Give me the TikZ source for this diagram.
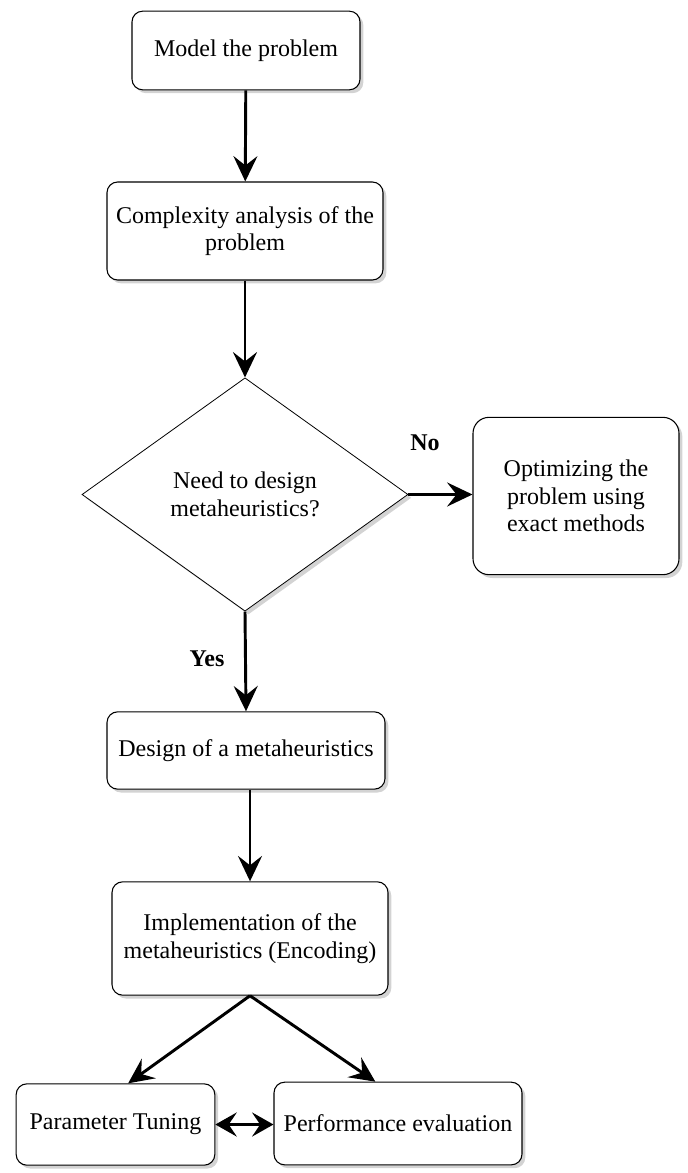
\documentclass[tikz,border=0pt]{standalone}
\usepackage{fontspec}
\setmainfont{Liberation Serif}
\usepackage{tikz}
\usetikzlibrary{arrows.meta, shapes.geometric, shadows}
\tikzset{
  stepbox/.style={
    draw=black, line width=0.8pt, fill=white, rounded corners=8pt,
    drop shadow={opacity=0.35, shadow xshift=2.5pt, shadow yshift=-2.5pt},
    font=\fontsize{18}{20.5}\selectfont, inner sep=2pt, align=center,
  },
  decbox/.style={
    draw=black, line width=0.6pt, fill=white, diamond, inner sep=0pt,
    drop shadow={opacity=0.35, shadow xshift=2.5pt, shadow yshift=-2.5pt},
    font=\fontsize{18}{20.5}\selectfont, align=center,
  },
  flowarr/.style={-{Stealth[length=19pt, width=18pt, inset=7pt]}, line width=2.2pt},
  bothar/.style={{Stealth[length=16pt, width=18pt, inset=6pt]}-{Stealth[length=16pt, width=18pt, inset=6pt]}, line width=2.2pt},
  branchlbl/.style={font=\fontsize{18}{20.5}\selectfont\bfseries},
}

\begin{document}
\begin{tikzpicture}[x=0.75pt, y=-0.75pt]

\useasboundingbox (0,0) rectangle (688,1173);

% =====================================================================
%  MAIN COLUMN
% =====================================================================

\node[stepbox, minimum width=171pt, minimum height=59pt] (model) at (246, 50.5) {Model the problem};

\node[stepbox, minimum width=207pt, minimum height=73.5pt] (cplx) at (245, 231) {Complexity analysis of the\\problem};

% decision
\node[decbox, minimum width=244.5pt, minimum height=175pt] (need) at (245, 494.5) {Need to design\\metaheuristics?};

\node[stepbox, rounded corners=12pt, minimum width=154.5pt, minimum height=118pt] (exact) at (576, 496) {Optimizing the\\problem using\\exact methods};

\node[stepbox, minimum width=208.5pt, minimum height=58pt] (design) at (246, 750.5) {Design of a metaheuristics};

\node[stepbox, minimum width=207pt, minimum height=85pt] (impl) at (250, 938.5) {Implementation of the\\metaheuristics (Encoding)};

% =====================================================================
%  BOTTOM ROW
% =====================================================================

\node[stepbox, minimum width=149pt, minimum height=61pt] (tune) at (115.5, 1124.5) {Parameter Tuning};
\node[stepbox, minimum width=186pt, minimum height=62pt] (perf) at (398, 1123.5) {Performance evaluation};

% --- Flow arrows ---
\draw[flowarr] (model) -- (cplx);
\draw[flowarr] (cplx) -- (need);
\draw[flowarr] (need.east) -- (exact.west |- need.east);
\draw[flowarr] (need.south) -- (design.north);
\draw[flowarr] ([xshift=3pt]design.south) -- ([xshift=3pt]design.south |- impl.north);
\draw[flowarr] (impl.south) -- ([xshift=9.5pt]tune.north);
\draw[flowarr] (impl.south) -- ([xshift=-17pt]perf.north);
\draw[bothar] (tune.east) -- (tune.east -| perf.west);

% branch labels
\node[branchlbl] (nolbl) at (425, 443) {No};
\node[branchlbl] (yeslbl) at (207, 659) {Yes};

\end{tikzpicture}
\end{document}
